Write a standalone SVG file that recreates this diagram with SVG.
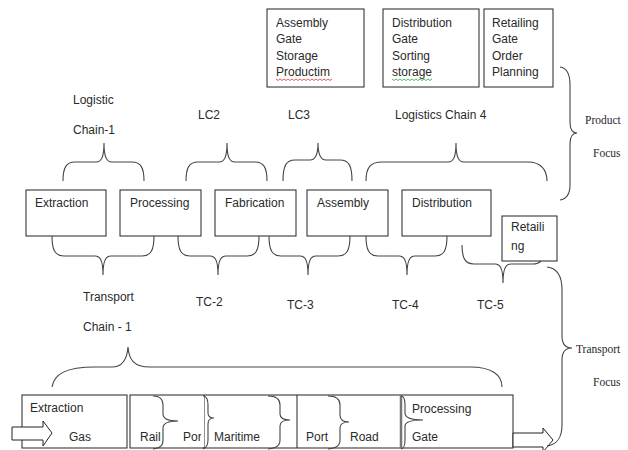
<svg xmlns="http://www.w3.org/2000/svg" width="628" height="450" viewBox="0 0 628 450">
<style>
.box{fill:#fff;stroke:#222;stroke-width:1}
.t{font-family:"Liberation Sans",Arial,sans-serif;font-size:12px;fill:#2a2a2a}
.s{font-family:"Liberation Serif","Times New Roman",serif;font-size:11.5px;fill:#2a1f2a}
.br{fill:none;stroke:#444;stroke-width:1.1}
.arr{fill:#fff;stroke:#222;stroke-width:1}
</style>
<rect width="628" height="450" fill="#fff"/>

<g id="top-assembly">
<rect class="box" x="267" y="9" width="97" height="78"/>
<text class="t" x="276" y="27">Assembly</text>
<text class="t" x="276" y="43">Gate</text>
<text class="t" x="276" y="60">Storage</text>
<text class="t" x="276" y="76">Productim</text>
<polyline fill="none" stroke="#d33" stroke-width="0.8" points="276,79 278,80.5 280,79 282,80.5 284,79 286,80.5 288,79 290,80.5 292,79 294,80.5 296,79 298,80.5 300,79 302,80.5 304,79 306,80.5 308,79 310,80.5 312,79 314,80.5 316,79 318,80.5 320,79 322,80.5 324,79 326,80.5 328,79 330,80.5 332,79"/>
</g>
<g id="top-distribution">
<rect class="box" x="383" y="9" width="96" height="78"/>
<text class="t" x="392" y="27">Distribution</text>
<text class="t" x="392" y="43">Gate</text>
<text class="t" x="392" y="60">Sorting</text>
<text class="t" x="392" y="76">storage</text>
<polyline fill="none" stroke="#3a3" stroke-width="0.8" points="392,79 394,80.5 396,79 398,80.5 400,79 402,80.5 404,79 406,80.5 408,79 410,80.5 412,79 414,80.5 416,79 418,80.5 420,79 422,80.5 424,79 426,80.5 428,79 430,80.5 432,79"/>
</g>
<g id="top-retailing">
<rect class="box" x="484" y="9" width="69" height="78"/>
<text class="t" x="492" y="27">Retailing</text>
<text class="t" x="492" y="43">Gate</text>
<text class="t" x="492" y="60">Order</text>
<text class="t" x="492" y="76">Planning</text>
</g>

<g id="labels">
<text class="t" x="73" y="104">Logistic</text>
<text class="t" x="73" y="134">Chain-1</text>
<text class="t" x="198" y="119">LC2</text>
<text class="t" x="288" y="119">LC3</text>
<text class="t" x="395" y="119">Logistics Chain 4</text>
<text class="s" x="585" y="124">Product</text>
<text class="s" x="593" y="157">Focus</text>
<text class="t" x="83" y="301">Transport</text>
<text class="t" x="83" y="331">Chain - 1</text>
<text class="t" x="196" y="306">TC-2</text>
<text class="t" x="287" y="309">TC-3</text>
<text class="t" x="392" y="309">TC-4</text>
<text class="t" x="477" y="309">TC-5</text>
<text class="s" x="576" y="353">Transport</text>
<text class="s" x="593" y="386">Focus</text>
</g>

<g id="extraction"><rect class="box" x="26" y="190" width="80" height="46"/><text class="t" x="35" y="207">Extraction</text></g>
<g id="processing"><rect class="box" x="120" y="190" width="81" height="46"/><text class="t" x="130" y="207">Processing</text></g>
<g id="fabrication"><rect class="box" x="215" y="190" width="81" height="46"/><text class="t" x="225" y="207">Fabrication</text></g>
<g id="assembly"><rect class="box" x="307" y="190" width="81" height="46"/><text class="t" x="317" y="207">Assembly</text></g>
<g id="distribution"><rect class="box" x="402" y="190" width="89" height="46"/><text class="t" x="412" y="207">Distribution</text></g>
<g id="retailing"><rect class="box" x="502" y="216" width="55" height="45"/><text class="t" x="511" y="231">Retaili</text><text class="t" x="511" y="250">ng</text></g>

<g id="bottom-row">
<rect class="box" x="22" y="395" width="105" height="53"/>
<rect class="box" x="130" y="395" width="383" height="53"/>
<line x1="204" y1="395" x2="204" y2="448" stroke="#222"/>
<line x1="297" y1="395" x2="297" y2="448" stroke="#222"/>
<line x1="401" y1="395" x2="401" y2="448" stroke="#777" stroke-width="2.5"/>
<text class="t" x="30" y="412">Extraction</text>
<text class="t" x="69" y="441">Gas</text>
<text class="t" x="140" y="441">Rail</text>
<text class="t" x="183" y="441">Por</text>
<text class="t" x="214" y="441">Maritime</text>
<text class="t" x="306" y="441">Port</text>
<text class="t" x="350" y="441">Road</text>
<text class="t" x="412" y="413">Processing</text>
<text class="t" x="412" y="441">Gate</text>
<polygon class="arr" points="12,427 43,427 43,421 52,433 43,446 43,440 12,440"/>
<polygon class="arr" points="513,433 543,433 543,428 553,440 543,452 543,447 513,447"/>
<rect x="201" y="397" width="3" height="50" fill="#fff"/>
</g>

<g id="connectors">
<path class="br" d="M63,181 C63,168 66,162 75,162 L96,162 C101,162 104,158 104,143 C104,158 107,162 112,162 L132,162 C141,162 144,168 144,181"/>
<path class="br" d="M186,181 C186,168 189,162 198,162 L219,162 C224,162 227,158 227,143 C227,158 230,162 235,162 L255,162 C264,162 267,168 267,181"/>
<path class="br" d="M283,181 C283,166 286,160 295,160 L310,160 C315,160 318,156 318,143 C318,156 321,160 326,160 L340,160 C349,160 352,166 352,181"/>
<path class="br" d="M366,181 C366,168 370,162 382,162 L448,162 C453,162 456,158 456,143 C456,158 459,162 464,162 L528,162 C541,162 547,170 547,181"/>
<path class="br" d="M52,236 C52,250 55,256 64,256 L95,256 C100,256 103,260 103,275 C103,260 106,256 111,256 L142,256 C151,256 154,250 154,236"/>
<path class="br" d="M178,236 C178,250 181,256 190,256 L210,256 C215,256 218,260 218,275 C218,260 221,256 226,256 L247,256 C256,256 259,250 259,236"/>
<path class="br" d="M269,236 C269,250 272,256 281,256 L300,256 C305,256 308,260 308,275 C308,260 311,256 316,256 L338,256 C347,256 350,250 350,236"/>
<path class="br" d="M366,236 C366,250 369,256 378,256 L399,256 C404,256 407,260 407,275 C407,260 410,256 415,256 L435,256 C444,256 447,250 447,236"/>
<path class="br" d="M462,245 C462,258 465,264 474,264 L495,264 C500,264 503,268 503,283 C503,268 506,264 511,264 L533,264 C537,264 539,263 541,261"/>
<path class="br" d="M560,67 C567,68 570,74 570,85 L570,122 C570,129 572,133 577,133 C572,133 570,137 570,144 L570,185 C570,195 566,199 560,200"/>
<path class="br" d="M547,267 C556,268 562,274 562,290 L562,336 C562,344 565,348 572,348 C565,348 562,352 562,360 L562,425 C562,438 556,445 547,446"/>
<path class="br" d="M52,387 C54,374 66,367 95,367 L112,367 C122,367 127,360 128,347 C129,360 134,367 150,367 L470,367 C492,367 502,375 502,387"/>
<path class="br" d="M153,396 C160,396 163,399 163,405 L163,414 C163,419 168,421 178,421 C168,421 163,423 163,428 L163,440 C163,446 160,448 153,449"/>
<path class="br" d="M204,396 C207,397 208,400 208,405 L208,413 C208,416 210,418 214,418 C210,418 208,420 208,424 L208,440 C208,446 206,448 203,449"/>
<path class="br" d="M268,396 C276,396 280,399 280,405 L280,414 C280,418 283,420 290,420 C283,420 280,422 280,426 L280,440 C280,446 276,448 268,449"/>
<path class="br" d="M328,396 C336,396 340,399 340,405 L340,415 C340,419 343,422 349,422 C343,422 340,424 340,428 L340,440 C340,446 336,448 328,449"/>
<path class="br" d="M401,396 C404,396 405,399 405,405 L405,413 C405,417 410,420 423,420 C410,420 405,422 405,426 L405,440 C405,446 404,448 401,449"/>
</g>
</svg>
